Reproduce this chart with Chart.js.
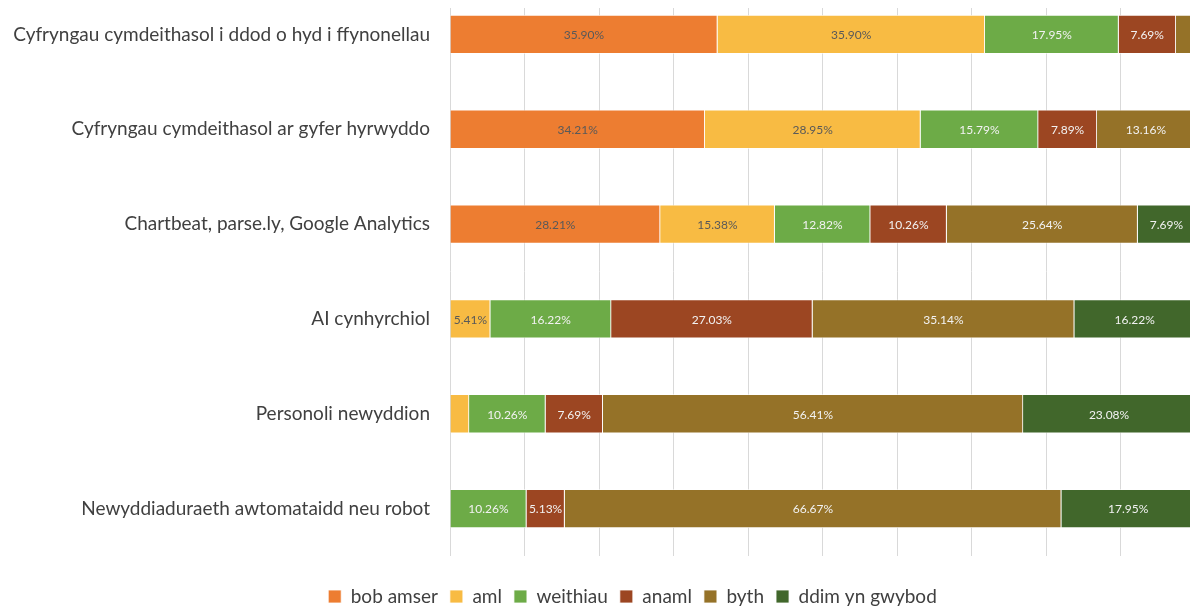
<!DOCTYPE html>
<html>
<head>
<meta charset="utf-8">
<script src="https://cdn.jsdelivr.net/npm/chart.js@4/dist/chart.umd.min.js"></script>
<style>
  html, body { margin: 0; padding: 0; background: #fff; overflow: hidden; }
  #wrap { position: absolute; left: 0; top: -13px; width: 1196px; height: 629px; }
</style>
</head>
<body>
<div id="wrap"><canvas id="myChart"></canvas></div>
<script>
// categories, top to bottom
const categories = [
    "Cyfryngau cymdeithasol i ddod o hyd i ffynonellau",
    "Cyfryngau cymdeithasol ar gyfer hyrwyddo",
    "Chartbeat, parse.ly, Google Analytics",
    "AI cynhyrchiol",
    "Personoli newyddion",
    "Newyddiaduraeth awtomataidd neu robot"
];

const seriesNames = ["bob amser", "aml", "weithiau", "anaml", "byth", "ddim yn gwybod"];

// percentages per series, one value per category
const bobAmser   = [35.90, 34.21, 28.21, 0,     0,     0];
const aml        = [35.90, 28.95, 15.38, 5.41,  2.56,  0];
const weithiau   = [17.95, 15.79, 12.82, 16.22, 10.26, 10.26];
const anaml      = [7.69,  7.89,  10.26, 27.03, 7.69,  5.13];
const byth       = [2.56,  13.16, 25.64, 35.14, 56.41, 66.67];
const ddimGwybod = [0,     0,     7.69,  16.22, 23.08, 17.95];

const seriesValues = [bobAmser, aml, weithiau, anaml, byth, ddimGwybod];
const seriesColors = ["#ED7D31", "#F8BB43", "#6DAB47", "#9C4622", "#957228", "#41672B"];
const labelColors  = ["#595959", "#595959", "#F2F2F2", "#F2F2F2", "#F2F2F2", "#F2F2F2"];

// draws the percentage inside each segment
const segmentLabels = {
    id: "segmentLabels",
    beforeDatasetsDraw(chart) {
        // gridlines start a little below the top edge
        const a = chart.chartArea;
        chart.ctx.save();
        chart.ctx.fillStyle = "#ffffff";
        chart.ctx.fillRect(a.left - 2, 0, a.right - a.left + 4, 21);
        chart.ctx.restore();
    },
    afterDatasetsDraw(chart) {
        const ctx = chart.ctx;
        ctx.save();
        ctx.font = "12px Lato";
        ctx.textAlign = "center";
        ctx.textBaseline = "middle";
        chart.data.datasets.forEach(function(ds, i) {
            const meta = chart.getDatasetMeta(i);
            meta.data.forEach(function(bar, j) {
                const v = ds.data[j];
                if (v < 3) return;
                const p = bar.getCenterPoint();
                ctx.fillStyle = labelColors[i];
                ctx.fillText(v.toFixed(2) + "%", p.x, p.y + 1);
            });
        });
        ctx.restore();
    }
};

// nudge the legend to the right, as in the original
const legendShift = {
    id: "legendShift",
    afterLayout(chart) {
        chart.legend.left += 35;
        chart.legend.right += 35;
    }
};

const datasets = seriesNames.map(function(name, i) {
    return {
        label: name,
        data: seriesValues[i],
        backgroundColor: seriesColors[i],
        borderColor: "#ffffff",
        borderWidth: 0.8,
        categoryPercentage: 0.41,
        barPercentage: 1
    };
});

const ctx = document.getElementById("myChart").getContext("2d");
const chart = new Chart(ctx, {
    type: "bar",
    data: { labels: categories, datasets: datasets },
    plugins: [segmentLabels, legendShift],
    options: {
        indexAxis: "y",
        responsive: true,
        maintainAspectRatio: false,
        animation: false,
        layout: { autoPadding: false, padding: { left: 0, right: 1, top: 0, bottom: 0 } },
        scales: {
            x: {
                stacked: true,
                min: 0,
                max: 100,
                ticks: { display: false, stepSize: 10 },
                grid: { color: "#D9D9D9", drawTicks: false },
                border: { display: false },
                afterFit: function(scale) { scale.height = 19; }
            },
            y: {
                stacked: true,
                grid: { display: false, drawTicks: false },
                border: { display: false },
                ticks: { color: "#404040", font: { family: "Lato", size: 19 }, padding: 20 },
                afterFit: function(scale) {
                    scale.width = 450;
                    scale.paddingTop = 0;
                    scale.paddingBottom = 0;
                }
            }
        },
        plugins: {
            legend: {
                position: "bottom",
                labels: {
                    boxWidth: 13,
                    boxHeight: 13,
                    padding: 12,
                    color: "#404040",
                    font: { family: "Lato", size: 19 }
                }
            },
            tooltip: { enabled: false }
        }
    }
});
</script>
</body>
</html>
